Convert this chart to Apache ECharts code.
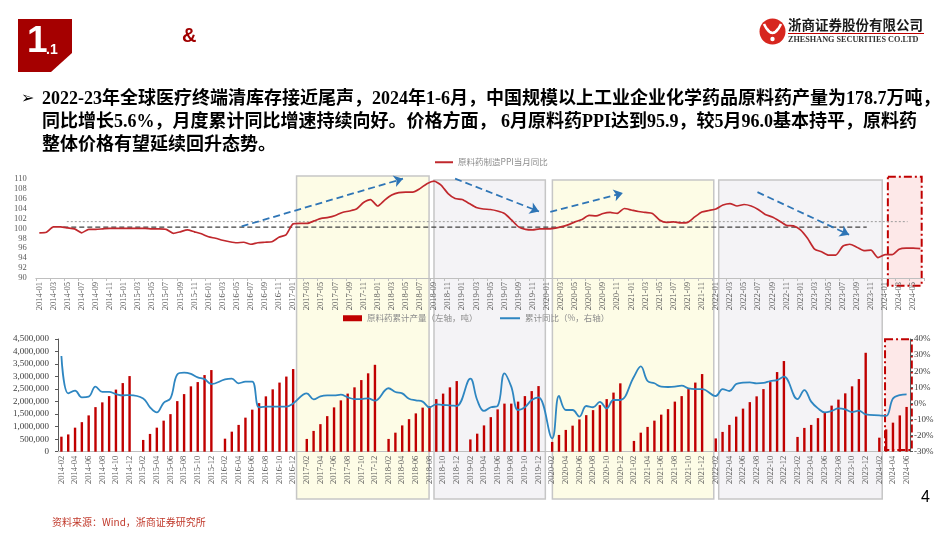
<!DOCTYPE html>
<html><head><meta charset="utf-8">
<script src="https://cdn.jsdelivr.net/npm/echarts@6/dist/echarts.min.js"></script>
<style>html,body{margin:0;padding:0;background:#fff}#c{width:950px;height:535px}</style>
</head><body><div id="c"></div>
<script>
// ---------- categories ----------
const months = [];
for (let y = 2014; y <= 2024; y++) for (let m = 1; m <= 12; m++) {
  if (y === 2024 && m > 6) break;
  months.push(y + '-' + String(m).padStart(2, '0'));
}
const ppiMonths = months;            // 2014-01 … 2024-06
const prodMonths = months.slice(1);  // 2014-02 … 2024-06

// ---------- series values ----------
const ppiValues = [
  99.1, 99.2, 100.3, 100.3, 100.1, 99.9, 99.1, 99.8, 99.8, 99.9, 100.0, 100.0,
  100.0, 100.0, 100.0, 100.0, 99.9, 99.9, 99.8, 99.0, 99.3, 99.7, 99.3, 98.9,
  98.3, 98.0, 97.6, 97.3, 97.1, 97.2, 96.8, 97.1, 97.2, 97.3, 98.2, 98.7,
  100.9, 101.0, 101.0, 101.5, 102.0, 102.2, 102.6, 103.2, 103.5, 103.9, 105.2, 105.8,
  104.5, 105.7, 106.7, 107.2, 107.3, 107.3, 108.0, 109.0, 109.5, 108.7, 107.0, 106.0,
  105.8, 105.0, 104.2, 103.9, 103.8, 103.5, 103.0, 101.7, 100.3, 99.8, 99.7, 99.9,
  99.9, 100.0, 100.3, 100.7, 101.3, 101.8, 102.6, 102.5, 103.0, 103.2, 103.0, 104.0,
  103.7, 103.4, 103.2, 103.0, 101.7, 101.2, 101.3, 101.1, 101.2, 102.3, 103.3, 103.6,
  103.9, 104.7, 105.0, 104.5, 104.8, 104.5, 103.8, 102.8, 102.3, 101.5, 100.6, 100.5,
  99.7, 98.0, 95.8, 95.3, 94.6, 94.6, 96.4, 96.8, 96.2, 95.5, 95.6, 94.1,
  94.7, 94.7, 95.8, 96.0, 96.0, 95.9
];
const prodValues = [
  600000, 690000, 960000, 1180000, 1450000, 1780000, 1970000, 2220000, 2480000, 2740000, 3020000,
  null, 470000, 710000, 960000, 1240000, 1500000, 2020000, 2300000, 2610000, 2780000, 3060000, 3260000,
  null, 520000, 800000, 1070000, 1360000, 1680000, 1940000, 2210000, 2490000, 2760000, 3000000, 3300000,
  null, 510000, 830000, 1100000, 1420000, 1770000, 2050000, 2320000, 2570000, 2860000, 3130000, 3470000,
  null, 510000, 760000, 1050000, 1300000, 1530000, 1760000, 1820000, 2100000, 2320000, 2570000, 2820000,
  null, 490000, 720000, 1050000, 1380000, 1690000, 1920000, 1920000, 2000000, 2220000, 2420000, 2620000,
  null, 390000, 670000, 870000, 1040000, 1290000, 1460000, 1660000, 1860000, 2100000, 2360000, 2730000,
  null, 430000, 760000, 990000, 1240000, 1480000, 1700000, 2000000, 2220000, 2500000, 2760000, 3100000,
  null, 530000, 790000, 1070000, 1400000, 1720000, 1980000, 2210000, 2500000, 2780000, 3180000, 3620000,
  null, 590000, 950000, 1070000, 1340000, 1570000, 1840000, 2080000, 2330000, 2610000, 2900000, 3950000,
  null, 560000, 890000, 1160000, 1450000, 1787000
];
const yoyValues = [
  29.4, 6.2, 7.9, 3.8, 4.2, 10.4, 7.1, 7.1, 5.8, 5.0, 5.2,
  null, 3.1, -2.4, -5.6, 0.4, 3.1, 18.0, 19.1, 18.3, 16.2, 15.1, 12.0,
  null, 14.9, 15.4, 12.5, 13.5, 13.5, -2.4, -2.0, -2.0, -2.0, -2.0, 0.0,
  null, 6.2, 2.5, 4.4, 5.0, 5.0, 5.4, 3.8, 2.7, 2.7, 3.1, 1.7,
  null, 9.4, 7.1, 6.2, 2.9, 1.9, 1.1, -2.4, -0.6, -1.0, -1.2, -1.6,
  null, 15.4, 2.1, -4.7, -2.4, -1.6, 18.7, 10.4, -4.1, -2.4, 2.1, 3.8,
  null, -21.7, 4.6, -4.1, -4.1, -8.2, -1.6, -2.4, 0.9, -3.1, 2.1, 2.1,
  null, 16.6, 23.0, 13.9, 12.5, 10.4, 10.2, 10.4, 11.0, 9.4, 8.9, 8.9,
  null, 4.6, 8.9, 7.7, 12.0, 12.9, 13.1, 12.5, 12.7, 13.9, 14.5, 16.6,
  null, 2.7, 8.3, 1.1, -3.1, -5.6, -4.7, -3.1, -3.7, -5.4, -4.5, -6.8,
  null, -7.4, -7.8, 3.1, 5.2, 5.6
];
// reference levels and trend arrows on the PPI chart ([month index, value])
const refDotted = [[3.9, 101.35], [123.2, 101.35]];
const refDashed = [[3.4, 100.25], [117.4, 100.25]];
const trendArrows = [
  [[28.7, 100.4], [51.6, 110.0]],
  [[59.0, 110.0], [70.9, 103.4]],
  [[72.5, 103.3], [82.8, 107.1]],
  [[101.9, 107.3], [114.9, 98.7]]
];
// period boxes (month index ranges)
const periodBoxes = [
  {from: 36.5, to: 55.3, kind: 'up'},
  {from: 56.0, to: 71.8, kind: 'down'},
  {from: 72.8, to: 95.7, kind: 'up'},
  {from: 96.4, to: 119.6, kind: 'down'}
];
const ppiTicks = {min: 90, max: 110, interval: 2};
const prodTicks = {min: 0, max: 4500000, interval: 500000};
const yoyTicks = {min: -30, max: 40, interval: 10};

const SERIF = '"Liberation Serif", "Noto Sans CJK SC", serif';
const CJK = '"Noto Sans CJK SC", sans-serif';
const labelGray = '#595959';

const chart = echarts.init(document.getElementById('c'), null, {renderer: 'canvas'});

const option = {
  animation: false,
  backgroundColor: '#fff',
  grid: [
    {left: 35.8, top: 178.7, width: 888, height: 99.3},
    {left: 58, top: 339, width: 852, height: 112.7}
  ],
  legend: [
    {data: ['原料药制造PPI当月同比'], left: 435, top: 158, padding: 0, icon: 'rect', itemWidth: 18, itemHeight: 2, itemGap: 4,
     textStyle: {fontSize: 8.5, color: '#8c8c8c', fontFamily: CJK}},
    {data: ['原料药累计产量（左轴，吨）'], left: 343, top: 314, padding: 0, icon: 'rect', itemWidth: 19, itemHeight: 6,
     textStyle: {fontSize: 8.5, color: '#8c8c8c', fontFamily: CJK}},
    {data: ['累计同比（%，右轴）'], left: 500, top: 314, padding: 0, icon: 'rect', itemWidth: 20, itemHeight: 2,
     textStyle: {fontSize: 8.5, color: '#8c8c8c', fontFamily: CJK}}
  ],
  xAxis: [
    {type: 'category', gridIndex: 0, data: ppiMonths, boundaryGap: true,
     axisLine: {lineStyle: {color: '#bfbfbf'}},
     axisTick: {show: true, interval: 1, length: 3, lineStyle: {color: '#bfbfbf'}},
     axisLabel: {rotate: 90, interval: 1, fontSize: 8.5, color: labelGray, fontFamily: SERIF, margin: 4},
     splitLine: {show: false}},
    {type: 'category', gridIndex: 1, data: prodMonths, boundaryGap: true,
     axisLine: {lineStyle: {color: '#bfbfbf'}},
     axisTick: {show: false},
     axisLabel: {rotate: 90, interval: 1, fontSize: 8.5, color: labelGray, fontFamily: SERIF, margin: 4},
     splitLine: {show: false}},
    {type: 'value', gridIndex: 0, show: false, min: -0.5, max: ppiMonths.length - 0.5}
  ],
  yAxis: [
    {type: 'value', gridIndex: 0, min: ppiTicks.min, max: ppiTicks.max, interval: ppiTicks.interval,
     axisLine: {show: false}, axisTick: {show: false}, splitLine: {show: false},
     axisLabel: {fontSize: 8.5, color: labelGray, fontFamily: SERIF, margin: 9}},
    {type: 'value', gridIndex: 1, min: prodTicks.min, max: prodTicks.max, interval: prodTicks.interval,
     axisLine: {show: true, lineStyle: {color: '#595959'}}, axisTick: {show: true, length: 3, lineStyle: {color: '#595959'}},
     splitLine: {show: false},
     axisLabel: {fontSize: 9, color: '#404040', fontFamily: SERIF, margin: 9,
       formatter: v => String(v).replace(/\B(?=(\d{3})+(?!\d))/g, ',')}},
    {type: 'value', gridIndex: 1, position: 'right', min: yoyTicks.min, max: yoyTicks.max, interval: yoyTicks.interval,
     axisLine: {show: true, lineStyle: {color: '#595959'}}, axisTick: {show: true, length: 3, lineStyle: {color: '#595959'}},
     splitLine: {show: false},
     axisLabel: {fontSize: 9, color: '#404040', fontFamily: SERIF, margin: 4, formatter: '{value}%'}}
  ],
  series: [
    {name: '原料药制造PPI当月同比', type: 'line', xAxisIndex: 0, yAxisIndex: 0, data: ppiValues,
     showSymbol: false, smooth: 0.2, z: 6,
     lineStyle: {color: '#c0282d', width: 1.7}, itemStyle: {color: '#c0282d'}},
    {name: 'refDotted', type: 'line', xAxisIndex: 2, yAxisIndex: 0, data: refDotted, showSymbol: false, silent: true, z: 4,
     lineStyle: {color: '#9a9a9a', width: 1, type: [2, 2]}},
    {name: 'refDashed', type: 'line', xAxisIndex: 2, yAxisIndex: 0, data: refDashed, showSymbol: false, silent: true, z: 4,
     lineStyle: {color: '#404040', width: 1.3, type: [5, 3]}},
    {name: 'arrows', type: 'line', xAxisIndex: 2, yAxisIndex: 0, data: [], z: 5,
     markLine: {silent: true, symbol: ['none', 'arrow'], symbolSize: 9, label: {show: false},
       lineStyle: {color: '#2e75b6', width: 1.8, type: [7, 4]},
       emphasis: {disabled: true},
       data: trendArrows.map(a => [{coord: a[0]}, {coord: a[1]}])}},
    {name: '原料药累计产量（左轴，吨）', type: 'bar', xAxisIndex: 1, yAxisIndex: 1, data: prodValues,
     barWidth: 2.4, itemStyle: {color: '#c00000'}},
    {name: '累计同比（%，右轴）', type: 'line', xAxisIndex: 1, yAxisIndex: 2, data: yoyValues,
     connectNulls: true, smooth: 0.4, showSymbol: false, z: 6,
     lineStyle: {color: '#2e86c1', width: 1.8}, itemStyle: {color: '#2e86c1'}}
  ]
};
chart.setOption(option);

// ---------- decorations (positions derived from the month axis) ----------
const px = v => chart.convertToPixel({xAxisIndex: 2}, v);
const boxEls = periodBoxes.map(b => ({
  type: 'rect', z: -10, silent: true,
  shape: {x: px(b.from), y: b.from < 40 ? 176 : 180, width: px(b.to) - px(b.from), height: (b.from < 40 ? 323 : 319)},
  style: {fill: b.kind === 'up' ? '#fdfce6' : '#f4f3f6', stroke: '#c6c6c6', lineWidth: 1.5}
}));
const pinkTop = {type: 'rect', z: -9, silent: true,
  shape: {x: px(120.4), y: 176.7, width: px(125.2) - px(120.4), height: 109},
  style: {fill: '#fde8e8', stroke: '#c00000', lineWidth: 2, lineDash: [8, 3, 2, 3]}};
const pinkBottom = {type: 'rect', z: -9, silent: true,
  shape: {x: px(120.0), y: 339.3, width: px(123.8) - px(120.0), height: 110.7},
  style: {fill: '#fde8e8', stroke: '#c00000', lineWidth: 2, lineDash: [8, 3, 2, 3]}};

const TXT = 'bold 18px "Liberation Serif", "Noto Sans CJK SC"';
const header = [
  {type: 'polygon', shape: {points: [[18, 19], [72, 19], [72, 53], [51, 72], [18, 72]]}, style: {fill: '#a50000'}},
  {type: 'text', style: {text: '1', x: 27, y: 42, fill: '#fff', font: 'bold 37px "Liberation Sans"', verticalAlign: 'middle'}},
  {type: 'text', style: {text: '.1', x: 46, y: 50.5, fill: '#fff', font: 'bold 14px "Liberation Sans"', verticalAlign: 'middle'}},
  {type: 'text', style: {text: '&', x: 182, y: 36, fill: '#a00000', font: 'bold 20px "Liberation Sans"', verticalAlign: 'middle'}},
  // logo
  {type: 'circle', shape: {cx: 772.5, cy: 31.5, r: 13}, style: {fill: '#d7261e'}},
  {type: 'bezierCurve', shape: {x1: 764, y1: 24, x2: 781, y2: 24, cpx1: 772.5, cpy1: 42}, style: {fill: 'none', stroke: '#fff', lineWidth: 2.6}},
  {type: 'bezierCurve', shape: {x1: 767.5, y1: 29, x2: 777.5, y2: 29, cpx1: 772.5, cpy1: 37}, style: {fill: 'none', stroke: '#fff', lineWidth: 2}},
  {type: 'circle', shape: {cx: 772.5, cy: 39, r: 2.2}, style: {fill: '#fff'}},
  {type: 'text', style: {text: '浙商证券股份有限公司', x: 788, y: 25, fill: '#1a1a1a', font: 'bold 13.5px "Noto Sans CJK SC"', verticalAlign: 'middle'}},
  {type: 'line', shape: {x1: 788, y1: 33.5, x2: 924, y2: 33.5}, style: {stroke: '#c00000', lineWidth: 1}},
  {type: 'text', style: {text: 'ZHESHANG SECURITIES CO.LTD', x: 788, y: 39.5, fill: '#333', font: 'bold 8.2px "Liberation Serif"', verticalAlign: 'middle'}},
  // bullet paragraph
  {type: 'text', style: {text: '➢', x: 21, y: 99, fill: '#000', font: '16px "DejaVu Sans"', verticalAlign: 'middle'}},
  {type: 'text', style: {text: '2022-23年全球医疗终端清库存接近尾声，2024年1-6月，中国规模以上工业企业化学药品原料药产量为178.7万吨，', x: 42, y: 99, fill: '#000', font: TXT, verticalAlign: 'middle'}},
  {type: 'text', style: {text: '同比增长5.6%，月度累计同比增速持续向好。价格方面， 6月原料药PPI达到95.9，较5月96.0基本持平，原料药', x: 42, y: 122.5, fill: '#000', font: TXT, verticalAlign: 'middle'}},
  {type: 'text', style: {text: '整体价格有望延续回升态势。', x: 42, y: 145.5, fill: '#000', font: TXT, verticalAlign: 'middle'}},
  // footer
  {type: 'text', style: {text: '资料来源：Wind，浙商证券研究所', x: 52, y: 522, fill: '#c0392b', font: '10px "Noto Sans CJK SC"', verticalAlign: 'middle'}},
  {type: 'text', style: {text: '4', x: 921, y: 498, fill: '#000', font: '16px "Liberation Sans"', verticalAlign: 'middle'}}
];

chart.setOption({graphic: {elements: boxEls.concat([pinkTop, pinkBottom], header)}});
</script>
</body></html>
